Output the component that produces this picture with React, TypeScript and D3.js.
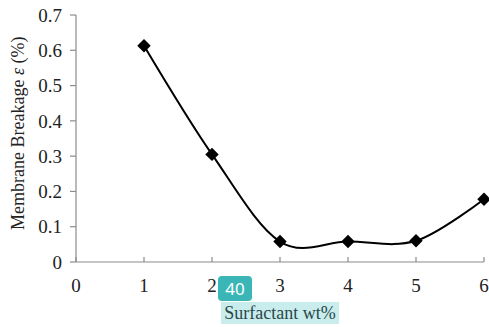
import React, { useEffect, useRef } from 'react';
import * as d3 from 'd3';

// surfactant concentration (wt%) and measured membrane breakage (%)
const surfactant = [1, 2, 3, 4, 5, 6];
const breakage = [0.613, 0.305, 0.058, 0.058, 0.06, 0.178];
const xTicks = [0, 1, 2, 3, 4, 5, 6];
const yTicks = [0, 0.1, 0.2, 0.3, 0.4, 0.5, 0.6, 0.7];

const App = () => {
  const svgRef = useRef<SVGSVGElement | null>(null);

  useEffect(() => {
    if (!svgRef.current) return;
    const svg = d3.select(svgRef.current);
    svg.selectAll('*').remove();

    const font = '"Liberation Serif", "Times New Roman", serif';
    const x = d3.scaleLinear().domain([0, 6]).range([76, 484]);
    const y = d3.scaleLinear().domain([0, 0.7]).range([262, 15]);
    const axisColor = '#8c8c8c';
    const textColor = '#222';

    // y axis
    svg.append('line')
      .attr('x1', x(0)).attr('x2', x(0))
      .attr('y1', y(0)).attr('y2', y(0.7))
      .attr('stroke', axisColor).attr('stroke-width', 1.2);
    yTicks.forEach(t => {
      svg.append('line')
        .attr('x1', x(0) - 6).attr('x2', x(0))
        .attr('y1', y(t)).attr('y2', y(t))
        .attr('stroke', axisColor).attr('stroke-width', 1.2);
      svg.append('text')
        .attr('x', 62).attr('y', y(t))
        .attr('dy', '0.35em')
        .attr('text-anchor', 'end')
        .style('font-family', font).style('font-size', '19px')
        .style('fill', textColor)
        .text(t === 0 ? '0' : d3.format('.1f')(t));
    });

    // x axis
    svg.append('line')
      .attr('x1', x(0)).attr('x2', x(6))
      .attr('y1', y(0)).attr('y2', y(0))
      .attr('stroke', axisColor).attr('stroke-width', 1.2);
    xTicks.forEach(t => {
      svg.append('line')
        .attr('x1', x(t)).attr('x2', x(t))
        .attr('y1', y(0) - 5).attr('y2', y(0))
        .attr('stroke', axisColor).attr('stroke-width', 1.2);
      svg.append('text')
        .attr('x', x(t)).attr('y', 285)
        .attr('dy', '0.35em')
        .attr('text-anchor', 'middle')
        .style('font-family', font).style('font-size', '19px')
        .style('fill', textColor)
        .text(String(t));
    });

    // y axis title
    const yTitle = svg.append('text')
      .attr('transform', `translate(24, ${y(0.365)}) rotate(-90)`)
      .attr('text-anchor', 'middle')
      .style('font-family', font).style('font-size', '18px')
      .style('fill', textColor);
    yTitle.append('tspan').text('Membrane Breakage ');
    yTitle.append('tspan').style('font-style', 'italic').text('ε');
    yTitle.append('tspan').text(' (%)');

    // x axis title with highlight
    svg.append('rect')
      .attr('x', 221).attr('y', 302)
      .attr('width', 118).attr('height', 22)
      .attr('fill', '#c9eced');
    svg.append('text')
      .attr('x', 280).attr('y', 313)
      .attr('dy', '0.35em')
      .attr('text-anchor', 'middle')
      .style('font-family', font).style('font-size', '18px')
      .style('fill', '#2a4848')
      .text('Surfactant wt%');

    // badge
    svg.append('rect')
      .attr('x', 218).attr('y', 276)
      .attr('width', 34).attr('height', 25)
      .attr('rx', 4)
      .attr('fill', '#3bb6b6');
    svg.append('text')
      .attr('x', 235).attr('y', 289)
      .attr('dy', '0.35em')
      .attr('text-anchor', 'middle')
      .style('font-family', '"Noto Sans", sans-serif').style('font-size', '17px')
      .style('fill', '#fff')
      .text('40');

    // smoothed line
    const pts: [number, number][] = surfactant.map((s, i) => [s, breakage[i]]);
    const line = d3.line<[number, number]>()
      .x(d => x(d[0]))
      .y(d => y(d[1]))
      .curve(d3.curveCardinal.tension(0));
    svg.append('path')
      .datum(pts)
      .attr('d', line)
      .attr('fill', 'none')
      .attr('stroke', '#000')
      .attr('stroke-width', 2);

    // diamond markers
    const diamond = d3.symbol().type(d3.symbolDiamond2).size(115);
    svg.selectAll('.marker')
      .data(pts)
      .enter().append('path')
      .attr('class', 'marker')
      .attr('transform', d => `translate(${x(d[0])}, ${y(d[1])})`)
      .attr('d', diamond)
      .attr('fill', '#000');
  }, []);

  return (
    <svg ref={svgRef} width={489} height={327}
      style={{ position: 'absolute', left: 0, top: 0, background: '#fff' }} />
  );
};

export default App;
